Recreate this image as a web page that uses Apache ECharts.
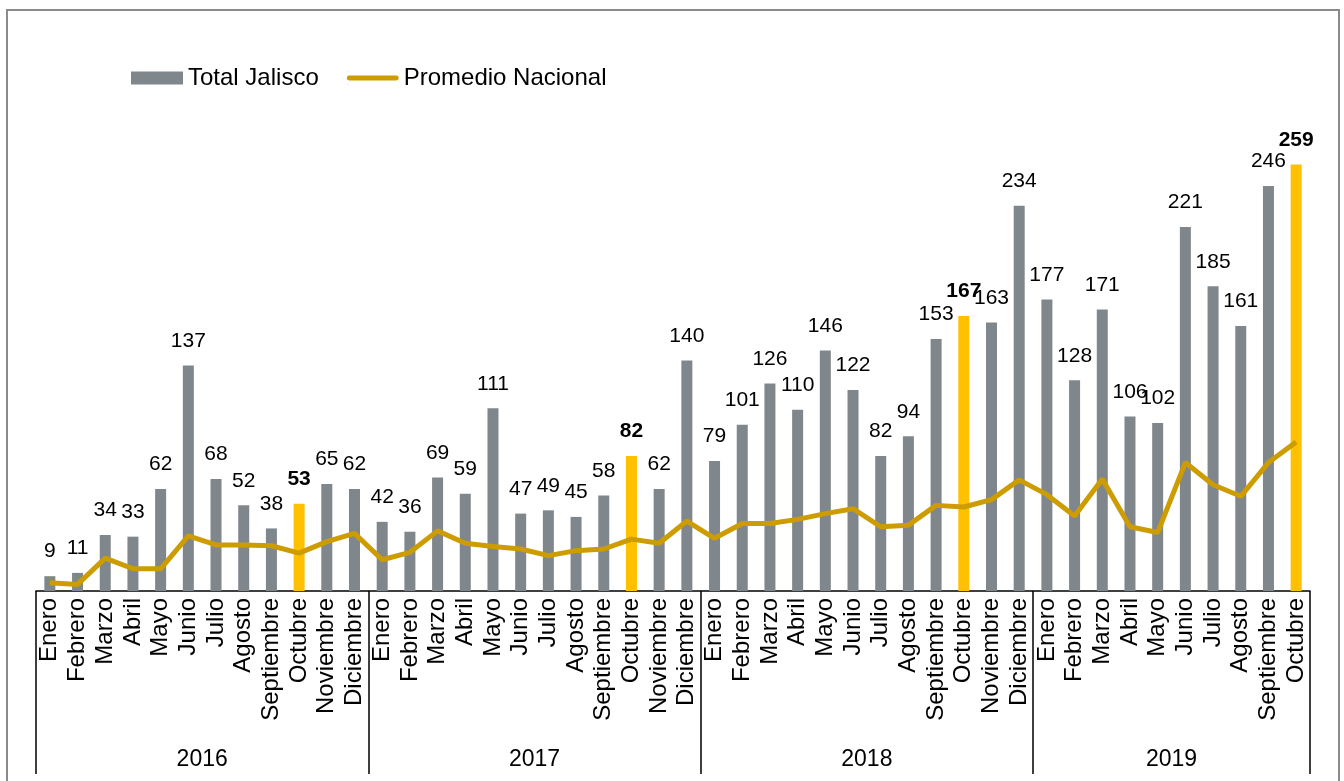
<!DOCTYPE html>
<html>
<head>
<meta charset="utf-8">
<title>Total Jalisco vs Promedio Nacional</title>
<script src="https://cdn.jsdelivr.net/npm/echarts@6/dist/echarts.min.js"></script>
<style>
  html, body { margin: 0; padding: 0; background: #fff; }
  #chart { position: absolute; left: 0; top: 0; width: 1344px; height: 781px; }
  #frame { position: absolute; left: 6px; top: 9px; width: 1330px; height: 800px;
           border: 2px solid #8a8a8a; pointer-events: none; }
</style>
</head>
<body>
<div id="chart"></div>
<div id="frame"></div>
<script>
// años y meses de cada año
const years = ['2016', '2017', '2018', '2019']
const monthsPerYear = [12, 12, 12, 10]
const monthNames = ['Enero', 'Febrero', 'Marzo', 'Abril', 'Mayo', 'Junio', 'Julio',
  'Agosto', 'Septiembre', 'Octubre', 'Noviembre', 'Diciembre']

// Total Jalisco (barras)
const jalisco2016 = [9, 11, 34, 33, 62, 137, 68, 52, 38, 53, 65, 62]
const jalisco2017 = [42, 36, 69, 59, 111, 47, 49, 45, 58, 82, 62, 140]
const jalisco2018 = [79, 101, 126, 110, 146, 122, 82, 94, 153, 167, 163, 234]
const jalisco2019 = [177, 128, 171, 106, 102, 221, 185, 161, 246, 259]

// Promedio Nacional (línea)
const nacional2016 = [5, 4, 20, 13.5, 13.5, 33.5, 28, 28, 27.5, 23, 30, 35]
const nacional2017 = [19, 23.5, 36.5, 29, 27, 25.5, 21.5, 24.5, 25.5, 31.5, 29, 42.5]
const nacional2018 = [32, 41, 41, 43.5, 47, 50, 39, 40, 52, 51, 55.5, 67.5]
const nacional2019 = [58.5, 45.5, 68, 39, 35.5, 78, 64.5, 57.5, 78, 90.5]

const highlightMonth = 'Octubre'

// categorías: un mes por barra
let months = []
let yearStart = []
years.forEach((y, i) => {
  yearStart.push(months.length)
  months = months.concat(monthNames.slice(0, monthsPerYear[i]))
})
const total = months.length
const yearCenters = yearStart.map((s, i) => s + monthsPerYear[i] / 2)

const jalisco = jalisco2016.concat(jalisco2017, jalisco2018, jalisco2019)
const nacional = nacional2016.concat(nacional2017, nacional2018, nacional2019)

const barData = jalisco.map((v, i) => {
  if (months[i] !== highlightMonth) return v
  return {
    value: v,
    itemStyle: { color: '#FFC000' },
    label: { fontWeight: 'bold' }
  }
})

// icono de la leyenda: barra fina centrada (la caja mide 52x13)
const lineIcon = 'path://M0,0h1v0.01h-1zM2,4h48a2.5,2.5 0 0 1 0,5h-48a2.5,2.5 0 0 1 0,-5zM0,12.99h1v0.01h-1z'

const chart = echarts.init(document.getElementById('chart'))
chart.setOption({
  animation: false,
  textStyle: { fontFamily: 'Liberation Sans, Arial, sans-serif' },
  legend: {
    left: 126,
    top: 61,
    itemWidth: 52,
    itemHeight: 13,
    itemGap: 28,
    textStyle: { fontSize: 24, color: '#000' },
    data: [
      { name: 'Total Jalisco', icon: 'rect' },
      { name: 'Promedio Nacional', icon: lineIcon }
    ]
  },
  grid: { left: 36, right: 34, top: 97, bottom: 190 },
  xAxis: [
    {
      type: 'category',
      position: 'bottom',
      data: months,
      axisLine: { lineStyle: { color: '#000', width: 1.5 } },
      axisTick: {
        show: true,
        length: 183,
        lineStyle: { color: '#000', width: 1.5 },
        interval: (idx) => yearStart.indexOf(idx) >= 0
      },
      axisLabel: {
        interval: 0,
        rotate: 90,
        margin: 7,
        fontSize: 24,
        color: '#000'
      }
    },
    {
      type: 'value',
      position: 'bottom',
      min: 0,
      max: total,
      axisLine: { show: false },
      axisTick: { show: false },
      splitLine: { show: false },
      axisLabel: {
        customValues: yearCenters,
        margin: 157,
        fontSize: 23,
        color: '#000',
        formatter: (v) => years[yearCenters.indexOf(v)] || ''
      }
    }
  ],
  yAxis: {
    type: 'value',
    min: 0,
    max: 300,
    show: false,
    splitLine: { show: false }
  },
  series: [
    {
      name: 'Total Jalisco',
      type: 'bar',
      barWidth: 11,
      data: barData,
      itemStyle: { color: '#7F878D' },
      label: {
        show: true,
        position: 'top',
        distance: 14,
        fontSize: 21,
        color: '#000'
      }
    },
    {
      name: 'Promedio Nacional',
      type: 'line',
      data: nacional,
      symbol: 'none',
      lineStyle: { color: '#CC9C00', width: 5 },
      itemStyle: { color: '#CC9C00' },
      z: 3
    }
  ]
})
</script>
</body>
</html>
